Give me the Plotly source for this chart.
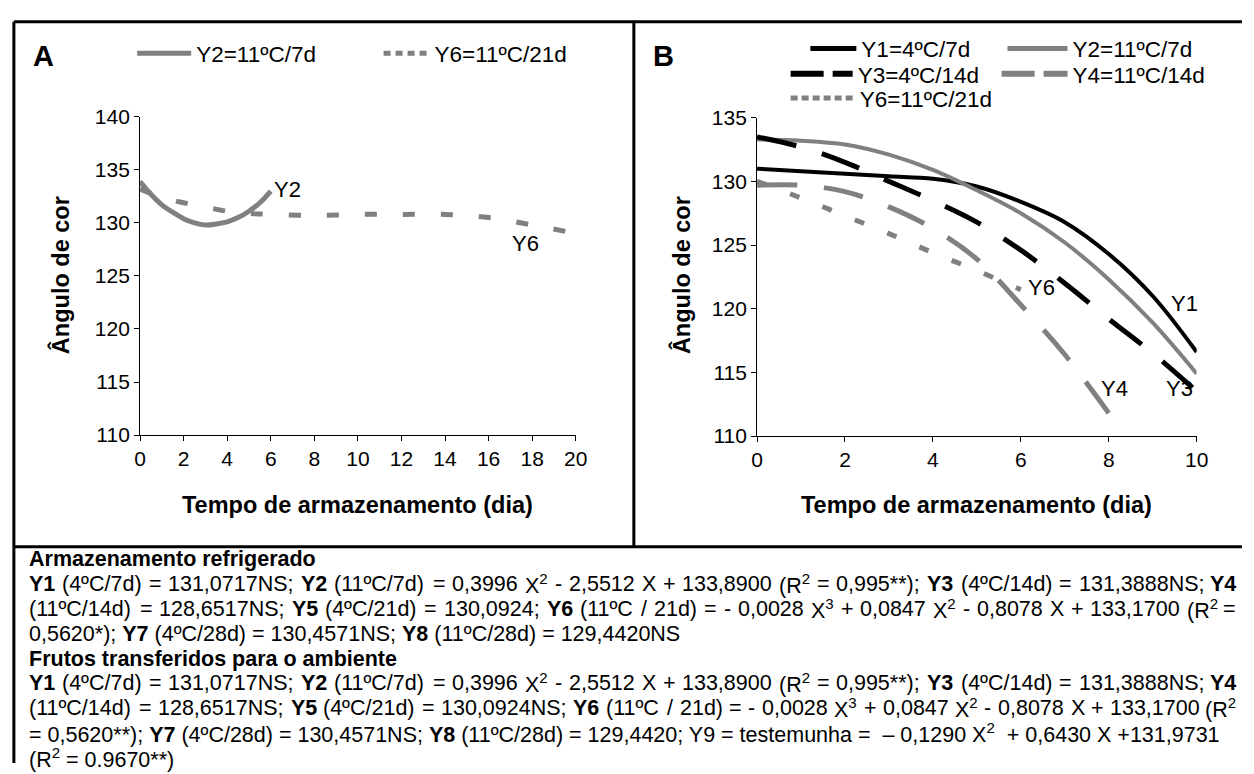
import plotly.graph_objects as go
import re

W, H = 1254, 774
FONT = "Liberation Sans, Arial, sans-serif"
GRAY = "#808080"

# ---------------- data ----------------
# Panel A (refrigerated storage)
a_x_y2 = [0, 0.5, 1, 1.5, 2, 2.5, 3, 3.5, 4, 4.5, 5, 5.5, 6]
a_y2 = [133.9, 132.7, 131.7, 131.0, 130.4, 130.0, 129.8, 129.9, 130.1, 130.5, 131.1, 131.9, 133.0]
a_x_y6 = [0, 1, 2, 3, 4, 5, 6, 8, 10, 12, 14, 16, 18, 20]
a_y6 = [133.2, 132.4, 131.9, 131.5, 131.1, 130.9, 130.8, 130.7, 130.8, 130.8, 130.8, 130.5, 129.8, 129.0]

# Panel B (fruits transferred to ambient)
b_x = [0, 1, 2, 3, 4, 5, 6, 7, 8, 9, 10]
b_y1 = [131.0, 130.8, 130.6, 130.4, 130.2, 129.6, 128.4, 126.8, 124.3, 121.0, 116.6]
b_y2 = [133.3, 133.2, 132.9, 132.1, 130.9, 129.3, 127.5, 125.2, 122.3, 118.9, 114.9]
b_y3 = [133.5, 132.7, 131.5, 130.0, 128.5, 126.8, 124.6, 122.0, 119.2, 116.5, 113.5]
b_x4 = [0, 1, 2, 3, 4, 5, 6, 7, 8]
b_y4 = [129.7, 129.7, 129.2, 128.0, 126.3, 123.9, 120.3, 116.4, 111.8]
b_x6 = [0, 1, 2, 3, 4, 5, 6]
b_y6 = [130.0, 128.7, 127.3, 125.9, 124.4, 123.0, 121.5]

a_names = ["Y2=11ºC/7d", "Y6=11ºC/21d"]
b_names = ["Y1=4ºC/7d", "Y2=11ºC/7d", "Y3=4ºC/14d", "Y4=11ºC/14d", "Y6=11ºC/21d"]

a_xticks = [0, 2, 4, 6, 8, 10, 12, 14, 16, 18, 20]
a_yticks = [110, 115, 120, 125, 130, 135, 140]
b_xticks = [0, 2, 4, 6, 8, 10]
b_yticks = [110, 115, 120, 125, 130, 135]

footnote_lines = [
    "<b>Armazenamento refrigerado</b>",
    "<b>Y1</b> (4ºC/7d) = 131,0717NS; <b>Y2</b> (11ºC/7d) = 0,3996 X<sup>2</sup> - 2,5512 X + 133,8900 (R<sup>2</sup> = 0,995**); <b>Y3</b> (4ºC/14d) = 131,3888NS; <b>Y4</b>",
    "(11ºC/14d) = 128,6517NS; <b>Y5</b> (4ºC/21d) = 130,0924; <b>Y6</b> (11ºC / 21d) = - 0,0028 X<sup>3</sup> + 0,0847 X<sup>2</sup> - 0,8078 X + 133,1700 (R<sup>2</sup> =",
    "0,5620*); <b>Y7</b> (4ºC/28d) = 130,4571NS; <b>Y8</b> (11ºC/28d) = 129,4420NS",
    "<b>Frutos transferidos para o ambiente</b>",
    "<b>Y1</b> (4ºC/7d) = 131,0717NS; <b>Y2</b> (11ºC/7d) = 0,3996 X<sup>2</sup> - 2,5512 X + 133,8900 (R<sup>2</sup> = 0,995**); <b>Y3</b> (4ºC/14d) = 131,3888NS; <b>Y4</b>",
    "(11ºC/14d) = 128,6517NS; <b>Y5</b> (4ºC/21d) = 130,0924NS; <b>Y6</b> (11ºC / 21d) = - 0,0028 X<sup>3</sup> + 0,0847 X<sup>2</sup> - 0,8078 X + 133,1700 (R<sup>2</sup>",
    "= 0,5620**); <b>Y7</b> (4ºC/28d) = 130,4571NS; <b>Y8</b> (11ºC/28d) = 129,4420; Y9 = testemunha =  – 0,1290 X<sup>2</sup>  + 0,6430 X +131,9731",
    "(R<sup>2</sup> = 0.9670**)",
]
justified = [False, True, True, False, False, True, True, False, False]


def px(x):
    return x / W


def py(y):
    return 1 - y / H


# Arial / Liberation Sans advance widths (per 1000 em)
ADV = {' ': 278, '(': 333, ')': 333, '*': 389, '+': 584, ',': 278, '-': 333, '.': 278,
       '/': 278, ';': 278, '=': 584, 'C': 722, 'N': 722, 'R': 722, 'S': 667, 'X': 667,
       'Y': 667, 'd': 556, 'º': 365, '–': 556}


def html_width(s, fs):
    w = 0.0
    sup = False
    for tok in re.split(r'(<[^>]+>)', s):
        if tok.startswith('<'):
            if tok == '<sup>':
                sup = True
            elif tok == '</sup>':
                sup = False
            continue
        for ch in tok:
            a = 556 if ch.isdigit() else ADV.get(ch, 556)
            w += a * (0.7 if sup else 1.0) * fs / 1000.0
    return w * 1.02


fig = go.Figure()

# ---- data traces (legend entries drawn by separate, empty legend traces) ----
fig.add_trace(go.Scatter(x=a_x_y2, y=a_y2, mode="lines", showlegend=False,
                         line=dict(color=GRAY, width=5, shape="spline"),
                         xaxis="x", yaxis="y"))
fig.add_trace(go.Scatter(x=a_x_y6, y=a_y6, mode="lines", showlegend=False,
                         line=dict(color=GRAY, width=5, dash="12px,26px", shape="spline"),
                         xaxis="x", yaxis="y"))

b_series = [
    (b_x, b_y1, "black", "solid", 4),
    (b_x, b_y2, GRAY, "solid", 4),
    (b_x, b_y3, "black", "40px,27px", 5),
    (b_x4, b_y4, GRAY, "40px,27px", 5),
    (b_x6, b_y6, GRAY, "10px,25px", 5),
]
for xs, ys, col, dash, lw in b_series:
    fig.add_trace(go.Scatter(x=xs, y=ys, mode="lines", showlegend=False,
                             line=dict(color=col, width=lw, dash=dash, shape="spline"),
                             xaxis="x2", yaxis="y2"))

# ---- legend entries: (legend id, name, color, dash, width, axes, box x, item width, row y)
LEG_FS = 22.5
legend_items = [
    ("legend", a_names[0], GRAY, "solid", 5, ("x", "y"), 128, 54, 43),
    ("legend2", a_names[1], GRAY, "7px,5px", 5, ("x", "y"), 378, 46, 43),
    ("legend3", b_names[0], "black", "solid", 5, ("x2", "y2"), 811, 46, 38),
    ("legend4", b_names[1], GRAY, "solid", 5, ("x2", "y2"), 1011, 60, 38),
    ("legend5", b_names[2], "black", "33px,9px", 6, ("x2", "y2"), 791, 62, 64),
    ("legend6", b_names[3], GRAY, "33px,9px", 6, ("x2", "y2"), 1005, 66, 64),
    ("legend7", b_names[4], GRAY, "7px,4px", 5, ("x2", "y2"), 791, 64, 89),
]
legends = {}
for lid, nm, col, dash, lw, (xa, ya), bx, iw, ry in legend_items:
    fig.add_trace(go.Scatter(x=[None], y=[None], mode="lines", name=nm, showlegend=True,
                             line=dict(color=col, width=lw, dash=dash),
                             xaxis=xa, yaxis=ya, legend=lid))
    legends[lid] = dict(x=px(bx), y=py(ry), xanchor="left", yanchor="middle",
                        bgcolor="rgba(0,0,0,0)", borderwidth=0, itemwidth=iw,
                        font=dict(family=FONT, size=LEG_FS, color="black"))

axis_common = dict(showgrid=False, zeroline=False, showline=True, linecolor="black",
                   linewidth=1, ticks="outside", ticklen=5, tickcolor="black",
                   tickfont=dict(family=FONT, size=21, color="black"), fixedrange=True)

fig.update_layout(
    width=W, height=H,
    margin=dict(l=0, r=0, t=0, b=0),
    paper_bgcolor="white", plot_bgcolor="white",
    font=dict(family=FONT, size=21, color="black"),
    xaxis=dict(domain=[px(136), px(578)], range=[0, 20], tickvals=a_xticks,
               anchor="y", **axis_common),
    yaxis=dict(domain=[py(436), py(108)], range=[110, 140], tickvals=a_yticks,
               anchor="x", **axis_common),
    xaxis2=dict(domain=[px(762), px(1208)], range=[0, 10], tickvals=b_xticks,
                anchor="y2", **axis_common),
    yaxis2=dict(domain=[py(437), py(109)], range=[110, 135], tickvals=b_yticks,
                anchor="x2", **axis_common),
    showlegend=True,
    **legends,
)

ann = []
# Panel letters
ann.append(dict(x=px(38), y=py(45), xref="paper", yref="paper", text="<b>A</b>",
                xanchor="center", yanchor="middle", showarrow=False,
                font=dict(family=FONT, size=29)))
ann.append(dict(x=px(667), y=py(45), xref="paper", yref="paper", text="<b>B</b>",
                xanchor="center", yanchor="middle", showarrow=False,
                font=dict(family=FONT, size=29)))
# Axis titles
for xc in (56, 686):
    ann.append(dict(x=px(xc), y=py(271), xref="paper", yref="paper",
                    text="<b>Ângulo de cor</b>", textangle=-90, xanchor="center",
                    yanchor="middle", showarrow=False, font=dict(family=FONT, size=23.5)))
for xc in (357, 985):
    ann.append(dict(x=px(xc), y=py(508), xref="paper", yref="paper",
                    text="<b>Tempo de armazenamento (dia)</b>", xanchor="center",
                    yanchor="middle", showarrow=False, font=dict(family=FONT, size=23.5)))
# Curve labels
for (x, y, t, xr, yr) in [(6.75, 133.15, "Y2", "x", "y"), (17.7, 128.05, "Y6", "x", "y"),
                          (9.73, 120.4, "Y1", "x2", "y2"), (10.33, 115.5, "Y2", "x2", "y2"),
                          (9.6, 113.7, "Y3", "x2", "y2"), (8.14, 113.7, "Y4", "x2", "y2"),
                          (6.46, 121.67, "Y6", "x2", "y2")]:
    ann.append(dict(x=x, y=y, xref=xr, yref=yr, text=t, showarrow=False,
                    xanchor="center", yanchor="middle",
                    font=dict(family=FONT, size=22)))

# Footnote text (justified lines are laid out word by word)
FS = 21.5
X_L, X_R = 22, 1249
y0, dy = 564, 25.6
for i, line in enumerate(footnote_lines):
    yy = py(y0 + i * dy)
    if not justified[i]:
        ann.append(dict(x=px(X_L), y=yy, xref="paper", yref="paper", text=line,
                        xanchor="left", yanchor="middle", showarrow=False, align="left",
                        borderpad=0, font=dict(family=FONT, size=FS)))
        continue
    words = line.split(" ")
    widths = [html_width(w_, FS) for w_ in words]
    gap = (X_R - X_L - sum(widths)) / (len(words) - 1)
    gap = max(gap, 0.25 * FS)
    xcur = X_L
    for j, (wd, wl) in enumerate(zip(words, widths)):
        last = j == len(words) - 1
        ann.append(dict(x=px(X_R if last else xcur), y=yy, xref="paper", yref="paper",
                        text=wd, xanchor="right" if last else "left", yanchor="middle",
                        showarrow=False, borderpad=0, font=dict(family=FONT, size=FS)))
        xcur += wl + gap
fig.update_layout(annotations=ann)

# Frame lines
frame = [
    (8, 10, 1254, 10), (8, 10, 8, 774), (8, 551, 1254, 551), (637, 10, 637, 551),
]
for (x0, y0_, x1, y1) in frame:
    fig.add_shape(type="line", xref="paper", yref="paper", x0=px(x0), y0=py(y0_),
                  x1=px(x1), y1=py(y1), line=dict(color="black", width=3))

fig.write_html("out.html", config={"displayModeBar": False},
               post_script="document.body.style.margin='0px';document.body.style.overflow='hidden';")
